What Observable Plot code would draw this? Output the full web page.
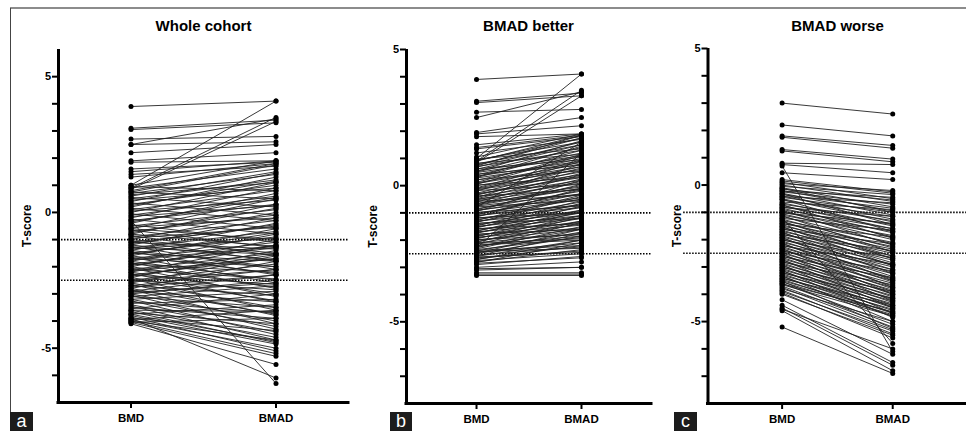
<!DOCTYPE html>
<html><head><meta charset="utf-8">
<script src="https://cdn.jsdelivr.net/npm/d3@7"></script>
<script src="https://cdn.jsdelivr.net/npm/@observablehq/plot@0.6"></script>
<style>
body{margin:0;background:#fff;}
#wrap{position:relative;width:966px;height:431px;overflow:hidden;background:#fff;font-family:"Liberation Sans",Arial,sans-serif;}
#wrap svg{position:absolute;left:0;top:0;}
.frameTop{position:absolute;left:10px;top:7px;width:956px;height:2px;background:#8c8c8c;}
.frameLeft{position:absolute;left:10px;top:8px;width:1px;height:404px;background:#444;}
.tag{position:absolute;top:412px;height:19px;background:#1c1c1c;color:#fff;font-size:18px;line-height:18px;text-align:center;}
</style>
</head><body>
<div id="wrap"><div class="frameTop"></div><div class="frameLeft"></div></div>
<script>
const categories = ["BMD", "BMAD"];
const titles = ["Whole cohort", "BMAD better", "BMAD worse"];
const tags = ["a", "b", "c"];
const thresholds = [-1, -2.5];
const yTickLabels = [-5, 0, 5];

// [BMD T-score, BMAD T-score] per subject
const wholePairs = [
[3.9,4.1],[3.1,3.4],[3.05,3.3],[2.7,2.8],[2.5,2.6],[2.5,3.45],[2.2,2.5],[1.9,2.2],[1.85,1.9],[1.6,1.85],[1.5,1.9],[1.4,1.7],[1.3,1.8],[1.0,4.1],[0.9,3.5],[0.85,3.35],[1.0,1.9],[0.9,1.6],[0.8,1.8],[0.7,1.4],[0.6,1.5],[0.5,1.2],[0.4,1.45],[0.3,1.0],[0.2,1.3],[0.1,0.8],[0.0,1.1],[-0.1,0.6],[-0.2,0.9],[-0.3,0.3],[-0.4,0.7],[-0.5,0.1],[-0.6,0.5],[-0.7,-0.1],[-0.8,0.3],[-0.9,-0.3],[-1.0,0.0],[-1.1,-0.5],[-1.2,-0.2],[-1.3,-0.7],[-1.4,-0.4],[-1.5,-0.9],[-1.6,-0.6],[-1.7,-1.1],[-1.8,-0.8],[-1.9,-1.3],[-2.0,-1.0],[-2.1,-1.5],[-2.2,-1.2],[-2.3,-1.7],[-2.4,-1.4],[-2.5,-1.9],[-2.6,-1.6],[-2.7,-2.1],[-2.8,-1.8],[-2.9,-2.3],[-3.0,-2.5],[-3.1,-2.7],[-3.2,-2.9],[0.75,1.75],[0.65,1.1],[0.45,0.9],[0.25,1.15],[0.05,0.45],[-0.15,0.25],[-0.35,0.55],[-0.55,-0.2],[-0.75,0.15],[-0.95,-0.55],[-1.15,-0.45],[-1.35,-0.95],[-1.55,-0.75],[-1.75,-1.25],[-1.95,-1.2],[-2.15,-1.7],[-2.35,-1.55],[-2.55,-2.1],[-2.75,-2.3],[-2.95,-2.6],
[0.95,0.8],[0.75,0.5],[0.55,0.2],[0.35,-0.1],[0.15,-0.3],[-0.05,-0.6],[-0.25,-0.8],[-0.3,-6.3],[-3.9,-6.1],[-0.45,-1.1],[-0.65,-1.3],[-0.85,-1.6],[-1.05,-1.8],[-1.25,-2.1],[-1.45,-2.3],[-1.65,-2.6],[-1.85,-2.8],[-2.05,-3.1],[-2.25,-3.3],[-2.45,-3.6],[-2.65,-3.8],[-2.85,-4.1],[-3.05,-4.3],[-3.25,-4.5],[-3.45,-4.7],[-3.65,-4.8],[-3.85,-5.1],[-4.0,-5.2],[-4.05,-5.3],[-4.1,-5.6],[-3.95,-5.0],[-3.75,-4.75],
[-0.6,-1.0],[-0.8,-1.25],[-1.0,-1.5],[-1.2,-1.75],[-1.4,-2.0],[-1.6,-2.25],[-1.8,-2.5],[-2.0,-2.75],[-2.2,-3.0],[-2.4,-3.25],[-2.6,-3.5],[-2.8,-3.75],[-3.0,-4.0],[-3.2,-4.2],[-3.4,-4.4],[-3.6,-4.6],[-3.8,-4.85],[-4.0,-4.7],
[-1.1,-1.35],[-1.3,-1.55],[-1.5,-1.8],[-1.7,-2.0],[-1.9,-2.2],[-2.1,-2.45],[-2.3,-2.65],[-2.5,-2.85],[-2.7,-3.05],[-2.9,-3.3],[-3.1,-3.5],[-3.3,-3.7],[-3.5,-3.9],[-3.7,-4.1],[-3.9,-4.35],
[-3.35,-3.2],[-3.55,-3.0],[-3.75,-3.4],[-3.95,-3.6],[-4.05,-3.9],[-3.6,-3.65]
];

const betterPairs = [
[3.9,4.1],[3.1,3.4],[3.05,3.3],[2.7,2.8],[2.5,3.45],[1.95,2.5],[1.9,2.2],[1.8,1.9],[1.5,1.9],[1.4,1.85],[1.35,1.8],[1.2,1.7],[1.0,4.1],[0.9,3.5],[0.85,3.3],[1.05,1.9],[0.95,1.6],[0.9,1.85],[0.8,1.5],[0.75,1.75],[0.7,1.3],[0.6,1.5],[0.55,1.1],[0.5,1.4],[0.4,1.2],[0.35,0.9],[0.3,1.3],[0.2,1.0],[0.1,0.8],[0.05,1.1],[0.0,0.6],[-0.1,0.7],[-0.15,0.4],[-0.2,0.9],[-0.3,0.3],[-0.35,0.55],[-0.4,0.2],[-0.45,0.8],[-0.5,0.1],[-0.55,-0.05],[-0.6,0.4],[-0.65,-0.1],[-0.7,0.0],[-0.75,-0.3],[-0.8,1.6],[-0.85,-0.2],[-0.9,-0.45],[-0.95,0.2],[-1.0,-0.5],[-1.05,-0.3],[-1.1,-0.7],[-1.15,-0.1],[-1.2,-0.8],[-1.25,-0.6],[-1.3,-0.95],[-1.35,-0.4],[-1.4,-1.0],[-1.45,-0.8],[-1.5,-1.1],[-1.55,-0.65],[-1.6,-1.2],[-1.65,-1.0],[-1.7,-1.35],[-1.75,-0.9],[-1.8,-1.45],[-1.85,-1.2],[-1.9,-1.55],[-1.95,-1.1],[-2.0,-1.6],[-2.05,-1.4],[-2.1,-1.75],[-2.15,-1.3],[-2.2,-1.85],[-2.25,-1.6],[-2.3,1.2],[-2.35,-1.9],[-2.4,-1.7],[-2.45,-2.1],[-2.5,-1.85],[-2.55,-2.25],[-2.6,-2.0],[-2.65,-2.4],[-2.7,-2.2],[-2.75,-2.5],[-2.8,-2.35],[-2.85,-2.65],[-2.9,-2.6],[-3.0,-2.8],[-3.05,-3.0],[-3.1,-3.0],[-3.2,-3.2],[-3.25,-3.25],[-3.3,-3.3],
[-2.72,-2.0],[-2.62,-2.45],[-2.48,-1.6],[-2.38,-2.2],[-2.28,-1.35],[-2.18,-2.0],[-2.08,-1.15],[-1.98,-1.8],[-1.88,-0.95],[-1.78,-1.6],[-1.68,-0.75],[-1.58,-1.4],[-1.48,-0.55],[-1.38,-1.2],[-1.28,-0.35],[-1.18,-1.0],[-1.08,-0.15],[-0.98,-0.75],[-0.88,0.05],[-0.78,-0.55],[-0.68,0.25],[-0.58,-0.35],[-0.48,0.45],[-0.38,-0.15],[-0.28,0.65],[-0.18,0.05],[-0.08,0.95],[0.02,0.3],[0.12,1.15],[0.22,0.55],[0.32,1.45],[0.42,0.75],[0.52,1.65],[0.62,0.95],[0.72,1.85],[0.82,1.15],[0.92,1.75],[0.97,1.35],[-2.82,-2.1],[-2.58,-1.75],[-2.42,-2.3],[-2.32,-1.5],[-2.12,-1.95],[-1.92,-1.3],[-1.72,-1.1],[-1.52,-0.9],[-1.32,-0.7],[-1.12,-0.5],[-0.92,-0.3],[-0.72,-0.1],[-0.52,0.15],[-0.32,0.35],[-0.12,0.5],[0.08,0.7],[0.28,0.85],[0.48,1.05],[0.68,1.6]
];

const worsePairs = [
[3.0,2.6],[2.2,1.8],[1.8,1.45],[1.75,1.35],[1.3,0.95],[1.25,0.85],[0.8,0.75],[0.75,0.45],[0.7,-6.1],[0.45,0.2],[0.2,-0.25],[0.15,-0.3],[0.1,-0.5],[0.05,-0.2],[0.0,-0.6],[-0.05,-0.35],[-0.1,-0.8],[-0.15,-0.55],[-0.2,-0.95],[-0.25,-0.7],[-0.3,-1.1],[-0.35,-0.85],[-0.4,-1.25],[-0.45,-1.0],[-0.5,-1.35],[-0.55,-1.15],[-0.65,-1.5],[-0.7,-1.3],[-0.75,-1.6],[-0.8,-1.45],[-0.85,-1.75],[-0.9,-1.6],[-0.95,-1.9],[-1.0,-1.7],[-1.05,-2.0],[-1.1,-1.85],[-1.15,-2.15],[-1.2,-5.8],[-1.25,-2.3],[-1.3,-2.1],[-1.35,-2.45],[-1.4,-2.25],[-1.45,-2.6],[-1.5,-2.35],[-1.55,-2.7],[-1.6,-2.5],[-1.65,-2.85],[-1.7,-2.6],[-1.75,-2.95],[-1.8,-2.75],[-1.85,-3.1],[-1.9,-2.9],[-1.95,-3.2],[-2.0,-3.0],[-2.05,-3.35],[-2.1,-3.1],[-2.15,-3.45],[-2.2,-3.25],[-2.25,-3.55],[-2.3,-3.4],[-2.35,-3.7],[-2.4,-3.5],[-2.45,-3.8],[-2.5,-3.6],[-2.55,-3.9],[-2.6,-3.75],[-2.65,-4.0],[-2.7,-3.85],[-2.75,-4.1],[-2.8,-3.95],[-2.85,-4.2],[-2.9,-4.05],[-2.95,-4.3],[-3.0,-4.15],[-3.05,-4.4],[-3.1,-4.25],[-3.15,-4.5],[-3.2,-4.35],[-3.25,-4.6],[-3.3,-4.45],[-3.35,-4.7],[-3.4,-4.55],[-3.45,-4.8],[-3.5,-4.65],[-3.55,-4.75],[-3.6,-5.1],[-3.65,-4.8],[-3.7,-5.2],[-3.75,-5.3],[-3.8,-5.0],[-3.85,-5.45],[-3.9,-5.35],[-3.95,-5.6],[-4.0,-5.5],[-4.2,-6.2],[-4.4,-6.5],[-4.5,-6.6],[-4.6,-6.8],[-4.55,-6.0],[-5.2,-6.9],
[-0.22,-0.45],[-0.42,-0.65],[-0.62,-0.9],[-0.82,-1.15],[-1.02,-1.4],[-1.22,-1.65],[-1.42,-1.9],[-1.62,-2.15],[-1.82,-2.4],[-2.02,-2.65],[-2.22,-2.9],[-2.42,-3.15],[-2.62,-3.4],[-2.82,-3.65],[-3.02,-3.9],[-3.22,-4.15],[-3.42,-4.4],[-3.62,-4.65],
[-0.32,-1.45],[-0.52,-1.7],[-0.72,-1.95],[-0.92,-2.2],[-1.12,-2.45],[-1.32,-2.7],[-1.52,-2.95],[-1.72,-3.25],[-1.92,-3.5],[-2.12,-3.75],[-2.32,-4.0],[-2.52,-4.25],[-2.72,-4.5],[-2.92,-4.7],[-3.12,-4.85],[-0.12,-1.0],[-3.32,-5.0],[-3.52,-5.25]
];

const panels = [
  {pairs: wholePairs, ydom: [-7, 6], ml: 58, mr: 966 - 348, mt: 49, mb: 431 - 402, xdom: [-0.5, 1.5], refX1: -0.5, titleX: 203, labelX: 27, tagL: 10, tagW: 23},
  {pairs: betterPairs, ydom: [-8, 5], ml: 406, mr: 966 - 651, mt: 49, mb: 431 - 403, xdom: [-0.667, 1.667], refX1: -0.667, titleX: 528, labelX: 373, tagL: 390, tagW: 22},
  {pairs: worsePairs, ydom: [-8, 5], ml: 707.5, mr: 0, mt: 48, mb: 431 - 403, xdom: [-0.67, 1.667], refX1: -0.89, titleX: 837, labelX: 677, tagL: 674, tagW: 23}
];

const wrap = document.getElementById("wrap");
panels.forEach((p, k) => {
  const rows = p.pairs.map(([a, b], i) => ({id: i, a, b}));
  const pts = rows.flatMap(r => [{x: 0, y: r.a}, {x: 1, y: r.b}]);
  const ticks = d3.range(p.ydom[0] + 1, p.ydom[1] + 0.001 - (p.ydom[1] === 6 ? 1 : 0), 1);
  const svg = Plot.plot({
    width: 966, height: 431,
    marginLeft: p.ml, marginRight: p.mr, marginTop: p.mt, marginBottom: p.mb,
    x: {domain: p.xdom, axis: null},
    y: {domain: p.ydom, axis: null},
    style: {background: "transparent", fontFamily: "'Liberation Sans', Arial, sans-serif", color: "#000", overflow: "visible"},
    marks: [
      Plot.ruleY(thresholds, {x1: p.refX1, x2: p.xdom[1], stroke: "#000", strokeWidth: 1.6, strokeDasharray: "1.5,1.5"}),
      Plot.link(rows, {x1: () => 0, y1: "a", x2: () => 1, y2: "b", stroke: "#222", strokeWidth: 0.9}),
      Plot.dot(pts, {x: "x", y: "y", r: 2.5, fill: "#000", stroke: "none"}),
      Plot.ruleX([p.xdom[0]], {y1: p.ydom[0], y2: p.ydom[1], stroke: "#000", strokeWidth: 3}),
      Plot.ruleY([p.ydom[0]], {x1: p.xdom[0], x2: p.xdom[1], stroke: "#000", strokeWidth: 3, strokeLinecap: "square"}),
      Plot.axisY({ticks, tickSize: 6, tickPadding: 1.5, strokeWidth: 2, tickFormat: d => yTickLabels.includes(d) ? String(d) : "", fontSize: 11, fontWeight: "bold", label: null}),
      Plot.axisX({ticks: [0, 1], tickSize: 6, tickPadding: 5, strokeWidth: 2, tickFormat: d => categories[d], fontSize: 11.5, fontWeight: "bold", label: null}),
      Plot.text([titles[k]], {frameAnchor: "top-left", dx: p.titleX - p.ml, dy: 30 - p.mt, textAnchor: "middle", lineAnchor: "bottom", fontSize: 15, fontWeight: "bold"}),
      Plot.text(["T-score"], {frameAnchor: "left", dx: p.labelX - p.ml, rotate: -90, textAnchor: "middle", lineAnchor: "middle", fontSize: 12, fontWeight: "bold"})
    ]
  });
  wrap.appendChild(svg);
  const t = document.createElement("div");
  t.className = "tag";
  t.style.left = p.tagL + "px";
  t.style.width = p.tagW + "px";
  t.textContent = tags[k];
  wrap.appendChild(t);
});
</script>
</body></html>
